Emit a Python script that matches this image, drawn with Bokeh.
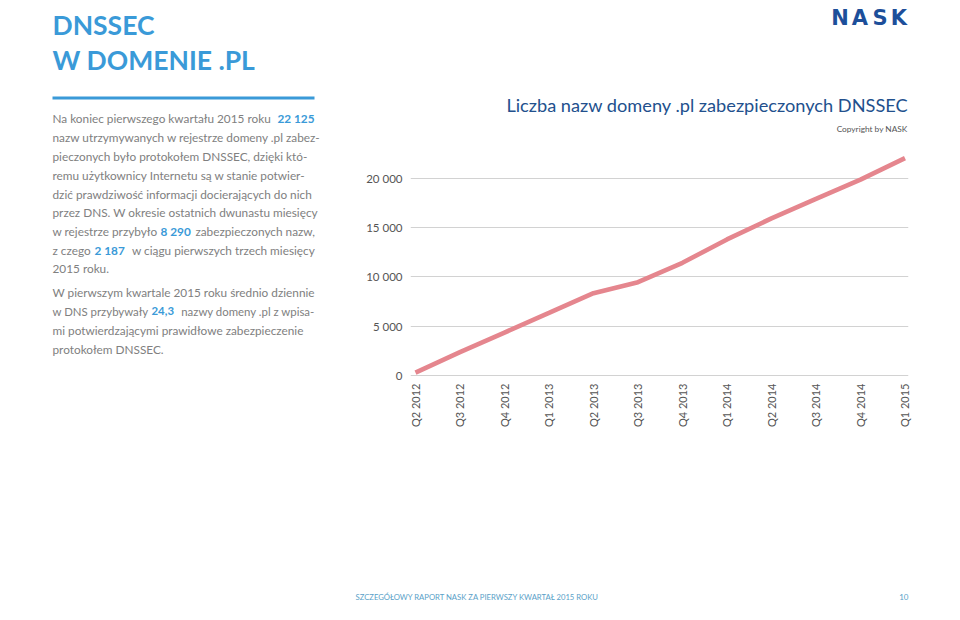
import numpy as np
from bokeh.plotting import figure
from bokeh.layouts import column, row
from bokeh.models import Range1d, FixedTicker, Label, BoxAnnotation
from bokeh.embed import file_html
from bokeh.resources import INLINE

# ---- data ----
quarters = ["Q2 2012", "Q3 2012", "Q4 2012", "Q1 2013", "Q2 2013", "Q3 2013",
            "Q4 2013", "Q1 2014", "Q2 2014", "Q3 2014", "Q4 2014", "Q1 2015"]
secured = [250, 2330, 4330, 6330, 8350, 9470, 11450, 13835, 15980, 17980, 19938, 22125]
y_ticks = [0, 5000, 10000, 15000, 20000]
y_tick_labels = ["0", "5 000", "10 000", "15 000", "20 000"]

BLUE = "#3a9ad8"
NAVY = "#22508d"
GREY = "#808080"
LINE = "#e5868e"
FONT = "Lato"

TOP_H = 585
FOOT_H = 35
LEFT_W = 360
CHART_W = 600
FRAME_BOTTOM = 376


def blank(width, height, x0, x1, y0, y1, bottom=0):
    f = figure(width=width, height=height, output_backend="svg", toolbar_location=None,
               x_range=Range1d(x0, x1), y_range=Range1d(y1, y0),
               min_border=0, min_border_left=0, min_border_right=0,
               min_border_top=0, min_border_bottom=bottom)
    f.axis.visible = False
    f.grid.visible = False
    f.outline_line_color = None
    return f


def txt(fig, s, xw, yw, size, color, style="normal", align="left", baseline="middle",
        font=FONT, rng=None):
    kw = {}
    if rng:
        kw = dict(x_range_name=rng, y_range_name=rng)
    fig.add_layout(Label(x=xw, y=yw, text=s, text_font=font, text_font_size=f"{size}px",
                         text_color=color, text_font_style=style, text_align=align,
                         text_baseline=baseline, **kw))


# ---- left text panel (coordinates = window pixels) ----
A = blank(LEFT_W, TOP_H, 0, LEFT_W, 0, FRAME_BOTTOM, bottom=TOP_H - FRAME_BOTTOM)
txt(A, "DNSSEC", 52, 24, 26.5, BLUE, "bold", baseline="alphabetic")
txt(A, "W DOMENIE .PL", 52, 59, 26.5, BLUE, "bold", baseline="alphabetic")
A.add_layout(BoxAnnotation(left=52, right=314, top=96, bottom=99,
                           fill_color=BLUE, fill_alpha=1, line_color=None))

PS = 11.8
lines = [
    (118.3, "Na koniec pierwszego kwartału 2015 roku", "22 125", None, None, PS),
    (137.3, "nazw utrzymywanych w rejestrze domeny .pl zabez-", None, None, None, PS),
    (156.0, "pieczonych było protokołem DNSSEC, dzięki któ-", None, None, None, PS),
    (175.0, "remu użytkownicy Internetu są w stanie potwier-", None, None, None, PS),
    (193.5, "dzić prawdziwość informacji docierających do nich", None, None, None, PS),
    (212.3, "przez DNS. W okresie ostatnich dwunastu miesięcy", None, None, None, PS),
    (230.8, "w rejestrze przybyło", "8 290", 160, "zabezpieczonych nazw,", PS),
    (249.5, "z czego", "2 187", 94, "w ciągu pierwszych trzech miesięcy", PS),
    (268.3, "2015 roku.", None, None, None, PS),
    (291.8, "W pierwszym kwartale 2015 roku średnio dziennie", None, None, None, PS),
    (310.8, "w DNS przybywały", "24,3", 151, "nazwy domeny .pl z wpisa-", 11.4),
    (330.0, "mi potwierdzającymi prawidłowe zabezpieczenie", None, None, None, PS),
    (349.0, "protokołem DNSSEC.", None, None, None, PS),
]
for y, pre, bold, bx, post, fs in lines:
    txt(A, pre, 52, y, fs, GREY)
    if bold and bx is None:
        txt(A, bold, 314, y, fs, BLUE, "bold", align="right")
    elif bold:
        txt(A, bold, bx, y, fs, BLUE, "bold")
    if post:
        txt(A, post, 314.5, y, fs, GREY, align="right")

# ---- chart ----
B = figure(width=CHART_W, height=TOP_H, output_backend="svg", toolbar_location=None,
           x_range=Range1d(-0.112, 11.079), y_range=Range1d(-153, 38214),
           min_border_left=50, min_border_right=52, min_border_top=0,
           min_border_bottom=TOP_H - FRAME_BOTTOM)
B.outline_line_color = None
B.extra_x_ranges["px"] = Range1d(410, 908)
B.extra_y_ranges["px"] = Range1d(FRAME_BOTTOM, 0)

xs = list(range(len(quarters)))
B.line(xs, secured, line_color=LINE, line_width=4.6)

B.xaxis.ticker = FixedTicker(ticks=xs)
B.xaxis.major_label_overrides = {i: q for i, q in enumerate(quarters)}
B.xaxis.major_label_orientation = np.pi / 2
B.xaxis.axis_line_color = None
B.xaxis.major_tick_line_color = None
B.xaxis.minor_tick_line_color = None
B.xaxis.major_label_text_font = FONT
B.xaxis.major_label_text_font_size = "11px"
B.xaxis.major_label_text_color = "#555555"
B.xaxis.major_label_standoff = 1

B.yaxis.ticker = FixedTicker(ticks=y_ticks)
B.yaxis.major_label_overrides = {t: l for t, l in zip(y_ticks, y_tick_labels)}
B.yaxis.axis_line_color = None
B.yaxis.major_tick_line_color = None
B.yaxis.minor_tick_line_color = None
B.yaxis.major_label_text_font = FONT
B.yaxis.major_label_text_font_size = "11.5px"
B.yaxis.major_label_text_color = "#555555"
B.yaxis.major_label_standoff = 2

B.xgrid.grid_line_color = None
B.ygrid.ticker = FixedTicker(ticks=y_ticks)
B.ygrid.grid_line_color = "#d2d2d2"
B.ygrid.grid_line_width = 1

txt(B, "Liczba nazw domeny .pl zabezpieczonych DNSSEC", 908, 104, 18.2, NAVY,
    align="right", rng="px")
txt(B, "Copyright by NASK", 907, 128, 8.3, "#555555", align="right", rng="px")
for ch, cx in zip("NASK", [839.5, 859.5, 879.5, 898.5]):
    txt(B, ch, cx, 17, 21, "#1d4f9a", "bold", align="center", baseline="alphabetic",
        font="DejaVu Sans", rng="px")

# ---- footer ----
C = blank(LEFT_W + CHART_W, FOOT_H, 0, LEFT_W + CHART_W, TOP_H, TOP_H + FOOT_H)
txt(C, "SZCZEGÓŁOWY RAPORT NASK ZA PIERWSZY KWARTAŁ 2015 ROKU", 355, 596, 7.7, "#5a9fc8")
txt(C, "10", 908, 596, 8, "#5a9fc8", align="right")

page = column(row(A, B, spacing=0), C, spacing=0)
open("out.html", "w").write(file_html(page, INLINE))
